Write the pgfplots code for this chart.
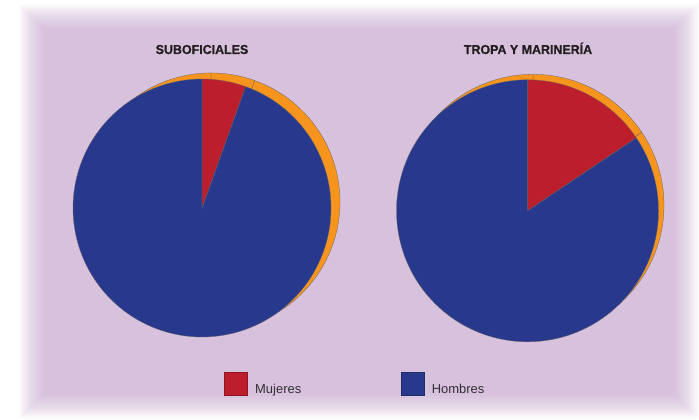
\documentclass[border=0pt]{standalone}
\usepackage{pgfplots}
\pgfplotsset{compat=1.18}
\usepackage{pgfplotstable}
\usepackage{fontspec}
\setmainfont{Liberation Sans}
\newfontfamily\titlefont{Liberation Sans}[BoldFeatures={FakeBold=0.8, FakeStretch=0.96}]
\definecolor{bgp}{RGB}{216,193,221}
\definecolor{myred}{RGB}{188,30,45}
\definecolor{myblue}{RGB}{40,57,141}
\definecolor{myorange}{RGB}{247,148,29}
\definecolor{txt}{RGB}{35,31,32}
\definecolor{ltxt}{RGB}{50,47,52}

\pgfplotstableread{
grupo mujeres hombres
suboficiales 5.5 94.5
tropa 15.6 84.4
}\datos

\pgfplotsset{
  pie/.style={scale only axis, anchor=south west, xmin=-1, xmax=1, ymin=-1, ymax=1,
    hide axis, clip=false},
  slice/.style={forget plot, draw=black!60, line width=0.3pt, variable=\t},
}

\begin{document}
\begin{tikzpicture}[x=1bp,y=1bp]
\useasboundingbox (0,0) rectangle (699,419);
\fill[white] (0,0) rectangle (699,419);
\foreach \k in {1,...,26}{
  \pgfmathsetmacro\op{1/(27-\k)}
  \pgfmathsetmacro\i{\k-1}
  \fill[bgp, opacity=\op] (19+\i, \i) rectangle (699-\i, 415-\i);
}

\pgfplotstablegetelem{0}{mujeres}\of\datos \let\sm\pgfplotsretval
\pgfplotstablegetelem{1}{mujeres}\of\datos \let\tm\pgfplotsretval
\pgfmathsetmacro\sa{90-3.6*\sm}
\pgfmathsetmacro\ta{90-3.6*\tm}

% left pie: SUBOFICIALES
\begin{axis}[pie, at={(73bp,82bp)}, width=258bp, height=258bp,
  legend image code/.code={\draw[#1] (0bp,-5.5bp) rectangle (23bp,17.5bp);},
  legend style={draw=none, fill=none, inner sep=0pt, at={(0.5853,-0.1822)}, anchor=west,
    legend columns=2, font=\fontsize{13}{15}\selectfont, text=ltxt,
    nodes={inner xsep=0pt, inner ysep=0pt},
    /tikz/every odd column/.append style={column sep=7.6bp},
    /tikz/every even column/.append style={column sep=99.5bp}},
  ]
\addplot[slice, fill=myorange, domain=\sa:90, samples=30] ({0.07+cos(\t)},{0.047+sin(\t)}) -- (axis cs:0.07,0.047) -- cycle;
\addplot[slice, fill=myorange, domain=-270:\sa, samples=180] ({0.07+cos(\t)},{0.047+sin(\t)}) -- (axis cs:0.07,0.047) -- cycle;
\addplot[slice, fill=myred, domain=\sa:90, samples=30] ({cos(\t)},{sin(\t)}) -- (axis cs:0,0) -- cycle;
\addplot[slice, fill=myblue, domain=-270:\sa, samples=180] ({cos(\t)},{sin(\t)}) -- (axis cs:0,0) -- cycle;
\addlegendimage{fill=myred, draw=myred!75!black, line width=0.4pt}
\addlegendentry{Mujeres}
\addlegendimage{fill=myblue, draw=myblue!75!black, line width=0.4pt}
\addlegendentry{Hombres}
\end{axis}

% right pie: TROPA Y MARINERIA
\begin{axis}[pie, at={(396.5bp,77.2bp)}, width=262bp, height=262bp]
\addplot[slice, fill=myorange, domain=\ta:90, samples=40] ({0.042+cos(\t)},{0.042+sin(\t)}) -- (axis cs:0.042,0.042) -- cycle;
\addplot[slice, fill=myorange, domain=-270:\ta, samples=180] ({0.042+cos(\t)},{0.042+sin(\t)}) -- (axis cs:0.042,0.042) -- cycle;
\addplot[slice, fill=myred, domain=\ta:90, samples=40] ({cos(\t)},{sin(\t)}) -- (axis cs:0,0) -- cycle;
\addplot[slice, fill=myblue, domain=-270:\ta, samples=180] ({cos(\t)},{sin(\t)}) -- (axis cs:0,0) -- cycle;
\end{axis}

\node[anchor=base, text=txt, font=\titlefont\fontsize{13}{15}\selectfont\bfseries] at (202bp,365bp) {SUBOFICIALES};
\node[anchor=base, text=txt, font=\titlefont\fontsize{13}{15}\selectfont\bfseries] at (528bp,365bp) {TROPA Y MARINERÍA};
\end{tikzpicture}
\end{document}
